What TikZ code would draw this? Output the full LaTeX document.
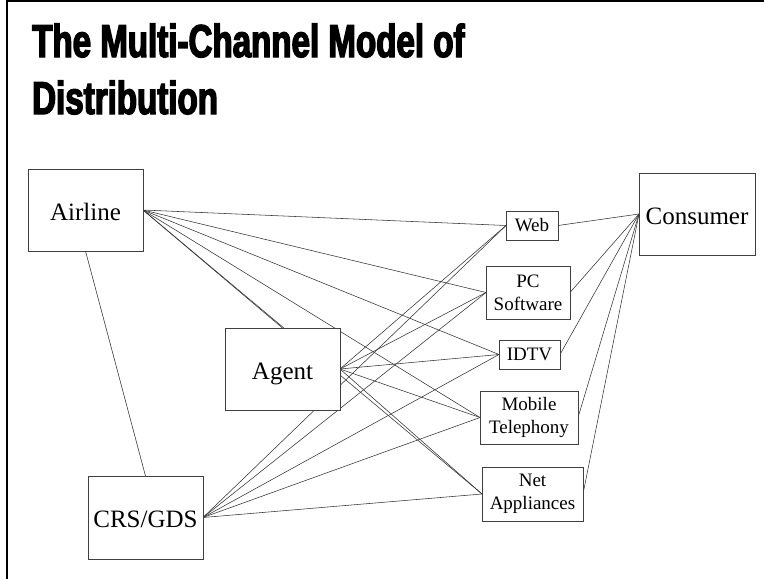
\documentclass[tikz,border=0pt]{standalone}
\usepackage{fontspec}
\setmainfont{Liberation Serif}
\newfontfamily\titlefont{Liberation Sans}[FakeStretch=0.72,FakeBold=3]
\usetikzlibrary{backgrounds}

\tikzset{
  box/.style={draw=black!75, line width=0.8pt, fill=white, inner sep=0pt, outer sep=0pt,
              align=center},
  bigbox/.style={box, font=\fontsize{25}{30}\selectfont, minimum width=115pt, minimum height=82pt,
                 text height=20pt, text depth=0pt},
  chanbox/.style={box, font=\fontsize{19}{23}\selectfont},
  link/.style={draw=black!80, line width=0.55pt},
  frame/.style={line width=2pt, draw=black},
  headline/.style={anchor=base west, inner sep=0pt, font=\titlefont\bfseries\fontsize{46}{57}\selectfont}
}

\begin{document}
\begin{tikzpicture}[x=1pt, y=-1pt]
  \useasboundingbox (0,0) rectangle (764,579);

  % slide frame: top and left rules
  \draw[frame] (6.5,0) -- (6.5,579);
  \draw[frame] (5.5,1) -- (764,1);

  % heading
  \node[headline] (head1) at (32,57) {The Multi-Channel Model of};
  \node[headline] (head2) at (32,114) {Distribution};

  % main actors
  \node[bigbox] (airline)  at (85.5,210)   {Airline};
  \node[bigbox] (agent)    at (282.5,369)  {Agent};
  \node[bigbox, minimum height=83pt] (crs) at (145.5,517.5) {CRS/GDS};
  \node[bigbox, minimum width=116pt] (consumer) at (697,214) {Consumer};

  % distribution channels
  \node[chanbox, minimum width=52pt,  minimum height=29pt, text height=12.5pt, text depth=0pt] (web)    at (532,225.5) {Web};
  \node[chanbox, minimum width=84pt,  minimum height=53pt] (pcsw)   at (528,292.5) {PC\\Software};
  \node[chanbox, minimum width=61pt,  minimum height=29pt, text height=12.5pt, text depth=0pt] (idtv)   at (529.5,354.5) {IDTV};
  \node[chanbox, minimum width=98pt,  minimum height=53pt] (mobile) at (529,417.5) {Mobile\\Telephony};
  \node[chanbox, minimum width=101pt, minimum height=54pt] (netapp) at (532.5,494) {Net\\Appliances};

  \begin{pgfonlayer}{background}
    % supplier side
    \draw[link] (airline.south) -- (crs.north);
    \draw[link] (airline.east) -- (agent.north);
    \foreach \c in {web,pcsw,idtv,mobile,netapp}{
      \draw[link] (airline.east) -- (\c.west);
      \draw[link] (agent.east) -- (\c.west);
      \draw[link] (crs.east) -- (\c.west);
      \draw[link] (\c.east) -- (consumer.west);
    }
  \end{pgfonlayer}
\end{tikzpicture}
\end{document}
